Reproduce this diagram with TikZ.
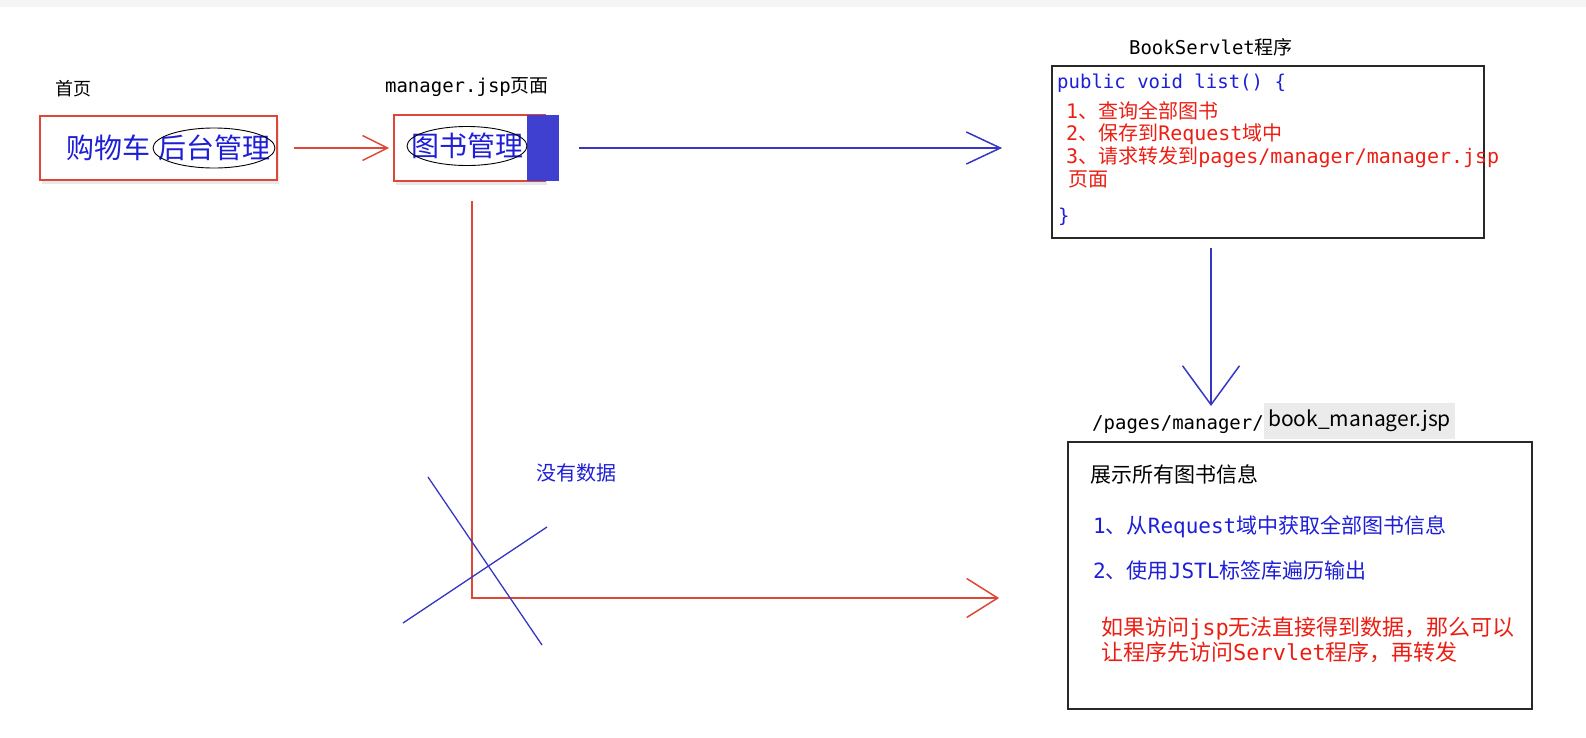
\documentclass[tikz,border=0pt]{standalone}
\usepackage{fontspec}
\setmainfont{Noto Sans CJK SC}
\newfontfamily\monof{DejaVu Sans Mono}
\usetikzlibrary{arrows.meta,shapes.geometric,shadows}
\definecolor{lnred}{RGB}{222,70,55}
\definecolor{txred}{RGB}{235,30,20}
\definecolor{txblue}{RGB}{30,30,215}
\definecolor{lnblue}{RGB}{55,55,195}
\definecolor{tabblue}{RGB}{64,64,208}
\definecolor{framec}{RGB}{40,40,40}
\newcommand{\setfs}[1]{\fontsize{#1pt}{#1pt}\selectfont}
\tikzset{
  redbox/.style={draw=lnred, line width=1.6pt, fill=white, inner sep=0pt,
    drop shadow={shadow xshift=2pt, shadow yshift=-4pt, fill=black!18}},
  codebox/.style={draw=framec, line width=1.8pt, inner sep=0pt},
  lbl/.style={inner sep=0pt, anchor=west},
  ovaltext/.style={inner sep=0pt, text=txblue, font=\setfs{28}},
  ovalline/.style={draw=black, line width=0.9pt},
  redarrow/.style={draw=lnred, line width=1.5pt},
  bluearrow/.style={draw=lnblue, line width=1.5pt},
  crossline/.style={draw=lnblue, line width=1.3pt}
}
\begin{document}
\begin{tikzpicture}[x=1pt,y=-1pt]
\path[use as bounding box] (0,0) rectangle (1586,737);
\fill[black!4] (0,0) rectangle (1586,7);

% home page box
\node[font=\setfs{18}] (homelbl) at (73,89) {首页};
\node[redbox, minimum width=237pt, minimum height=64pt] (home) at (158.5,148) {};
\node[lbl, text=txblue, font=\setfs{28}] (cart) at (66,148) {购物车};
\node[ovaltext] (admin) at (214,148) {后台管理};
\draw[ovalline] (admin.center) ellipse [x radius=61pt, y radius=20pt];

% manager page box
\node[font=\setfs{19}] (mgrlbl) at (467,87) {{\monof manager.jsp}页面};
\node[redbox, minimum width=151pt, minimum height=66pt] (mgr) at (469.5,148) {};
\node[fill=tabblue, minimum width=32pt, minimum height=66pt, inner sep=0pt] (tab) at (543,148) {};
\node[ovaltext] (bookm) at (467,146) {图书管理};
\draw[ovalline] (bookm.center) ellipse [x radius=60pt, y radius=19.5pt];

\draw[redarrow, -{Straight Barb[length=25pt,width=25pt]}, shorten <=16pt, shorten >=4pt]
  (home.east) -- (mgr.west);

% servlet box
\node[font=\setfs{19}] (srvlbl) at (1211,47) {{\monof BookServlet}程序};
\node[codebox, minimum width=432pt, minimum height=172pt] (srv) at (1268,152) {};
\node[lbl, text=txblue, font=\setfs{19}\monof] (c0) at (1057,83) {public void list() \{};
\node[lbl, text=txred, font=\setfs{20}] (c1) at (1066,111) {{\monof 1}、查询全部图书};
\node[lbl, text=txred, font=\setfs{20}] (c2) at (1066,134) {{\monof 2}、保存到{\monof Request}域中};
\node[lbl, text=txred, font=\setfs{20}] (c3) at (1066,157) {{\monof 3}、请求转发到{\monof pages/manager/manager.jsp}};
\node[lbl, text=txred, font=\setfs{20}] (c4) at (1068,179) {页面};
\node[lbl, text=txblue, font=\setfs{19}\monof] (c5) at (1058,217) {\}};

\draw[bluearrow, -{Straight Barb[length=34pt,width=32pt]}, shorten <=20pt, shorten >=49pt]
  (tab.east) -- (tab.east -| srv.west);

% down arrow
\coordinate (dtip) at (1211,406);
\draw[bluearrow, -{Straight Barb[length=39pt,width=57pt]}, shorten <=9pt]
  (srv.south -| dtip) -- (dtip);

% view page box
\node[lbl, anchor=east, font=\setfs{19}\monof] (pathlbl) at (1264,425) {/pages/manager/};
\node[fill=black!8, anchor=west, inner xsep=4pt, inner ysep=0pt, minimum height=36pt, font=\setfs{21}] (bmjsp) at (1264,421) {book\_manager.jsp};
\node[codebox, minimum width=464pt, minimum height=267pt] (view) at (1300,575.5) {};
\node[lbl, text=black, font=\setfs{21}] (v0) at (1090,474) {展示所有图书信息};
\node[lbl, text=txblue, font=\setfs{21}] (v1) at (1093,527) {{\monof 1}、从{\monof Request}域中获取全部图书信息};
\node[lbl, text=txblue, font=\setfs{21}] (v2) at (1093,571) {{\monof 2}、使用{\monof JSTL}标签库遍历输出};
\node[lbl, text=txred, font=\setfs{22}] (v3) at (1101,629) {如果访问{\monof jsp}无法直接得到数据，那么可以};
\node[lbl, text=txred, font=\setfs{22}] (v4) at (1101,652) {让程序先访问{\monof Servlet}程序，再转发};

% direct access path
\coordinate (corner) at (472,598);
\draw[redarrow, -{Straight Barb[length=31pt,width=39pt]}, shorten <=19pt, shorten >=68pt]
  (mgr.south -| corner) -- (corner) -- (corner -| view.west);
\node[text=txblue, font=\setfs{20}] (nodata) at (576,473) {没有数据};

% cross
\coordinate (xa1) at (428,477);
\coordinate (xa2) at (542,645);
\coordinate (xb1) at (403,623);
\coordinate (xb2) at (547,527);
\draw[crossline] (xa1) -- (xa2);
\draw[crossline] (xb1) -- (xb2);
\end{tikzpicture}
\end{document}
